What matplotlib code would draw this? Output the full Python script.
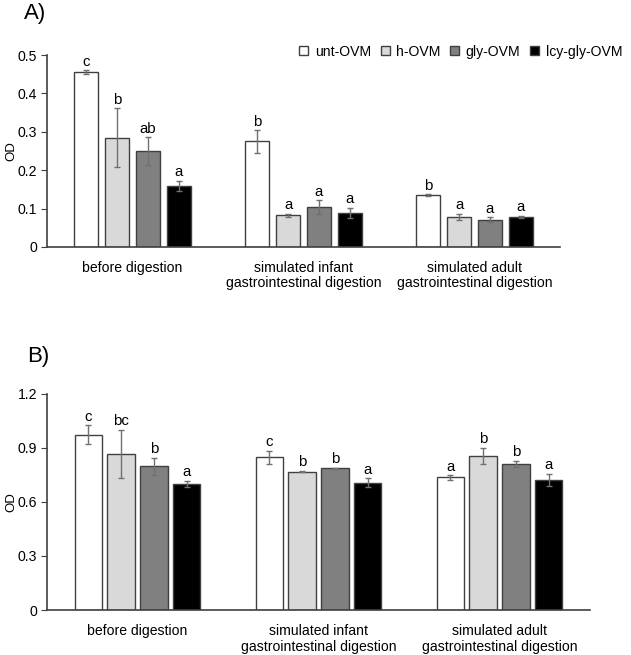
import matplotlib
matplotlib.use('Agg')
from matplotlib import pyplot as plt
from matplotlib.patches import Patch
import numpy as np

plt.rcParams['font.family'] = ['Liberation Sans', 'DejaVu Sans']

categories = ['before digestion',
              'simulated infant\ngastrointestinal digestion',
              'simulated adult\ngastrointestinal digestion']
samples = ['unt-OVM', 'h-OVM', 'gly-OVM', 'lcy-gly-OVM']
colors = ['white', '#d9d9d9', '#808080', 'black']

# panel A: mean / error / letters, rows = sample, cols = category
a_mean = [[0.455, 0.275, 0.135],
          [0.284, 0.082, 0.078],
          [0.250, 0.103, 0.071],
          [0.160, 0.089, 0.078]]
a_err = [[0.005, 0.029, 0.002],
         [0.077, 0.005, 0.008],
         [0.036, 0.018, 0.006],
         [0.013, 0.013, 0.003]]
a_letters = [['c', 'b', 'b'],
             ['b', 'a', 'a'],
             ['ab', 'a', 'a'],
             ['a', 'a', 'a']]

# panel B
b_mean = [[0.974, 0.848, 0.737],
          [0.869, 0.769, 0.856],
          [0.798, 0.787, 0.813],
          [0.700, 0.707, 0.722]]
b_err = [[0.052, 0.036, 0.013],
         [0.133, 0.004, 0.046],
         [0.049, 0.004, 0.016],
         [0.018, 0.024, 0.035]]
b_letters = [['c', 'c', 'a'],
             ['bc', 'b', 'b'],
             ['b', 'b', 'b'],
             ['a', 'a', 'a']]

EDGE = '#404040'
ERRC = '#707070'
FS = 10.1


def drawPanel(ax, mean, err, letters, width, step, ymax, yticks, ylabels, lab_off):
    x = np.arange(len(categories)) + 0.5
    for i in range(len(samples)):
        pos = x + (i - 1.5) * step
        ax.bar(pos, mean[i], width, color=colors[i], edgecolor=EDGE, linewidth=1.0,
               yerr=err[i], error_kw=dict(ecolor=ERRC, elinewidth=1.0, capsize=2.5, capthick=1.0),
               zorder=2)
        for j in range(len(categories)):
            ax.text(pos[j], mean[i][j] + err[i][j] + lab_off, letters[i][j],
                    ha='center', va='bottom', fontsize=10.8)
    ax.set_xlim(0, len(categories))
    ax.set_ylim(0, ymax)
    ax.set_yticks(yticks)
    ax.set_yticklabels(ylabels, fontsize=FS)
    ax.set_xticks(x)
    ax.set_xticklabels(categories, fontsize=FS, linespacing=1.15)
    ax.tick_params(axis='x', length=0, pad=10)
    ax.tick_params(axis='y', length=4, direction='out', color=EDGE, pad=3)
    ax.spines['top'].set_visible(False)
    ax.spines['right'].set_visible(False)
    for s in ['left', 'bottom']:
        ax.spines[s].set_color(EDGE)
        ax.spines[s].set_linewidth(1.2)
    ax.set_ylabel('OD', fontsize=9.5)


fig = plt.figure(figsize=(6.31, 6.55), dpi=100)

axA = fig.add_axes([0.0745, 0.623, 0.813, 0.293])
drawPanel(axA, a_mean, a_err, a_letters, 0.14, 0.181, 0.5,
          [0, 0.1, 0.2, 0.3, 0.4, 0.5], ['0', '0.1', '0.2', '0.3', '0.4', '0.5'], 0.004)
axA.yaxis.set_label_coords(-0.057, 0.5)

axB = fig.add_axes([0.0745, 0.0687, 0.8605, 0.3298])
drawPanel(axB, b_mean, b_err, b_letters, 0.15, 0.182, 1.2,
          [0, 0.3, 0.6, 0.9, 1.2], ['0', '0.3', '0.6', '0.9', '1.2'], 0.008)
axB.yaxis.set_label_coords(-0.054, 0.5)

fig.text(0.038, 0.995, 'A)', fontsize=16, va='top')
fig.text(0.043, 0.472, 'B)', fontsize=16, va='top')

handles = [Patch(facecolor=c, edgecolor=EDGE, linewidth=1.0) for c in colors]
fig.legend(handles, samples, loc='center right', bbox_to_anchor=(1.006, 0.921),
           ncol=4, frameon=False, fontsize=FS, handlelength=0.65, handleheight=0.65,
           handletextpad=0.45, columnspacing=0.7)

fig.savefig('out.png', dpi=100)
